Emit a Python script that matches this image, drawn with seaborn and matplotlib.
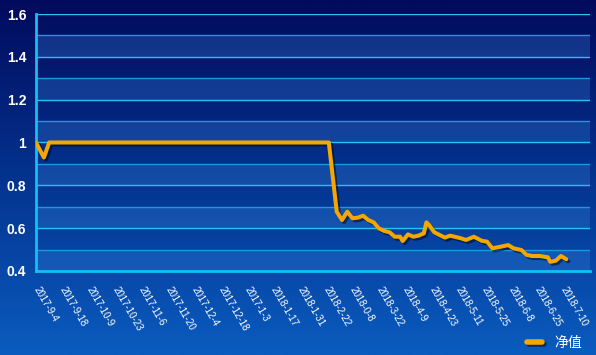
import numpy as np
import pandas as pd
import seaborn as sns
import matplotlib
matplotlib.use("Agg")
import matplotlib.pyplot as plt
import matplotlib.patheffects as pe

# trading-day index and net value
day = [0, 3, 5, 111, 114, 116, 118, 120, 122, 124, 126, 128, 130, 132, 134, 136,
       138, 139, 141, 143, 145, 147, 148, 149, 151, 153, 155, 157, 161, 163, 166,
       169, 171, 173, 176, 179, 181, 184, 186, 188, 191, 194, 195, 197, 199, 201]
nav = [1.0, 0.93, 1.0, 1.0, 0.677, 0.638, 0.677, 0.646, 0.649, 0.658, 0.638, 0.627,
       0.599, 0.587, 0.581, 0.560, 0.560, 0.540, 0.571, 0.560, 0.565, 0.576, 0.627,
       0.615, 0.581, 0.568, 0.556, 0.565, 0.553, 0.545, 0.560, 0.541, 0.537, 0.506,
       0.513, 0.521, 0.506, 0.498, 0.475, 0.470, 0.470, 0.464, 0.443, 0.448, 0.470,
       0.455]

date_labels = ["2017-9-4", "2017-9-18", "2017-10-9", "2017-10-23", "2017-11-6",
               "2017-11-20", "2017-12-4", "2017-12-18", "2017-1-3", "2018-1-17",
               "2018-1-31", "2018-2-22", "2018-0-8", "2018-3-22", "2018-4-9",
               "2018-4-23", "2018-5-11", "2018-5-25", "2018-6-8", "2018-6-25",
               "2018-7-10"]
y_ticks = [0.4, 0.6, 0.8, 1.0, 1.2, 1.4, 1.6]
y_tick_labels = ["0.4", "0.6", "0.8", "1", "1.2", "1.4", "1.6"]

df = pd.DataFrame({"day": day, "净值": nav})

sns.set_style("dark")
plt.rcParams["font.family"] = ["Liberation Sans", "Noto Sans CJK SC", "DejaVu Sans"]

fig = plt.figure(figsize=(5.96, 3.55), dpi=100)

# gradient background over the whole figure
bg = fig.add_axes([0, 0, 1, 1], zorder=-10)
grad = np.linspace(0, 1, 256).reshape(-1, 1)
cmap = matplotlib.colors.LinearSegmentedColormap.from_list(
    "bg", ["#020a5c", "#04338f", "#0a5cbf"])
bg.imshow(grad, aspect="auto", cmap=cmap, extent=[0, 1, 0, 1])
bg.axis("off")

ax = fig.add_axes([36 / 596, 1 - 271 / 355, 554 / 596, 257 / 355])
ax.set_facecolor("none")

# alternating bands every 0.1
for lo in np.arange(0.4, 1.6, 0.2):
    ax.axhspan(lo, lo + 0.1, color="#3a8ae0", alpha=0.28, lw=0, zorder=0)
for v in np.arange(0.5, 1.6, 0.2):
    ax.axhline(v, color="#1a98e0", lw=1.0, zorder=1)
for v in y_ticks[1:]:
    ax.axhline(v, color="#22c4f4", lw=1.0, zorder=1)

sns.lineplot(data=df, x="day", y="净值", ax=ax, color="#f5a700", lw=2.9,
             label="净值", zorder=3,
             path_effects=[pe.SimpleLineShadow(offset=(1.5, -1.5), shadow_color="#000820", alpha=0.55),
                           pe.Normal()])

ax.set_xlim(0, 210)
ax.set_ylim(0.4, 1.6)
ax.set_xticks(range(0, 211, 10))
ax.set_xticklabels(date_labels + [""], rotation=-60, ha="left", va="center",
                   rotation_mode="anchor", color="white", fontsize=7)
ax.set_yticks(y_ticks)
ax.set_yticklabels(y_tick_labels, color="white", fontsize=10, fontweight="bold")
ax.set_xlabel("")
ax.set_ylabel("")
ax.grid(False)

for s in ["top", "right"]:
    ax.spines[s].set_visible(False)
for s in ["left", "bottom"]:
    ax.spines[s].set_color("#12c0f2")
    ax.spines[s].set_linewidth(2)
ax.tick_params(axis="both", colors="#12c0f2", width=2, length=5, direction="out")
ax.tick_params(axis="x", pad=7, labelcolor="white")
ax.tick_params(axis="y", pad=2, labelcolor="white")

leg = ax.legend(loc="center right", bbox_to_anchor=(0.996, -0.28), frameon=False,
                borderaxespad=0, fontsize=10, handlelength=1.1, handletextpad=0.9)
for t in leg.get_texts():
    t.set_color("white")
for h in leg.get_lines():
    h.set_linewidth(4)
    h.set_solid_capstyle("round")

fig.savefig("out.png", dpi=100)
